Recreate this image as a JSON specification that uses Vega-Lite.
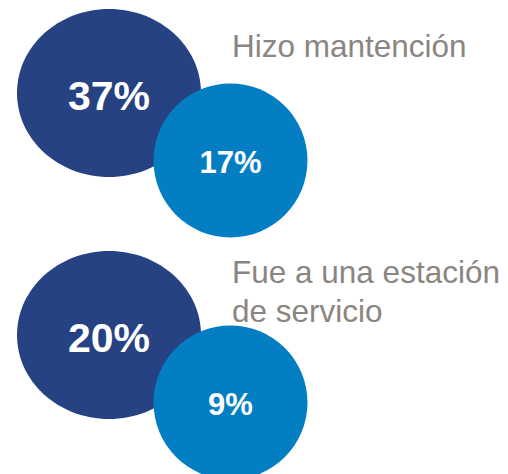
{
  "$schema": "https://vega.github.io/schema/vega-lite/v6.json",
  "width": 508,
  "height": 474,
  "padding": 0,
  "autosize": {"type": "fit", "contains": "padding"},
  "background": "white",
  "config": {"view": {"stroke": null}},
  "data": {
    "values": [
      {"grupo": "Hizo mantención", "tipo": "total", "valor": 0.37},
      {"grupo": "Hizo mantención", "tipo": "sub", "valor": 0.17},
      {"grupo": "Fue a una estación\nde servicio", "tipo": "total", "valor": 0.20},
      {"grupo": "Fue a una estación\nde servicio", "tipo": "sub", "valor": 0.09}
    ]
  },
  "encoding": {
    "x": {"field": "tipo", "type": "nominal", "axis": null,
          "scale": {"type": "point", "domain": ["total", "sub"], "range": [109, 230.5], "padding": 0}},
    "y": {"field": "grupo", "type": "nominal", "axis": null,
          "scale": {"type": "point", "domain": ["Hizo mantención", "Fue a una estación\nde servicio"], "range": [93, 335], "padding": 0}}
  },
  "layer": [
    {
      "mark": {"type": "point", "filled": true, "opacity": 1, "strokeWidth": 0},
      "encoding": {
        "yOffset": {"field": "tipo", "type": "nominal",
                    "scale": {"type": "point", "domain": ["total", "sub"], "range": [0, 67.5], "padding": 0}},
        "shape": {"field": "tipo", "type": "nominal", "legend": null,
                  "scale": {"domain": ["total", "sub"], "range": ["M 1 0 C 1 0.5043 0.5523 0.913 0 0.913 C -0.5523 0.913 -1 0.5043 -1 0 C -1 -0.5043 -0.5523 -0.913 0 -0.913 C 0.5523 -0.913 1 -0.5043 1 0 Z", "circle"]}},
        "size": {"field": "tipo", "type": "ordinal", "legend": null,
                 "scale": {"domain": ["total", "sub"], "range": [33856, 23716]}},
        "color": {"field": "tipo", "type": "nominal", "legend": null,
                  "scale": {"domain": ["total", "sub"], "range": ["#264282", "#037ec2"]}}
      }
    },
    {
      "transform": [{"filter": "datum.tipo === 'total'"}],
      "mark": {"type": "text", "font": "Liberation Sans", "fontWeight": "bold", "fontSize": 41, "color": "white", "align": "center", "baseline": "alphabetic", "dy": 17},
      "encoding": {
        "yOffset": {"field": "tipo", "type": "nominal",
                    "scale": {"type": "point", "domain": ["total", "sub"], "range": [0, 67.5], "padding": 0}},
        "text": {"field": "valor", "type": "quantitative", "format": ".0%"}
      }
    },
    {
      "transform": [{"filter": "datum.tipo === 'sub'"}],
      "mark": {"type": "text", "font": "Liberation Sans", "fontWeight": "bold", "fontSize": 31, "color": "white", "align": "center", "baseline": "alphabetic", "dy": 12.5},
      "encoding": {
        "yOffset": {"field": "tipo", "type": "nominal",
                    "scale": {"type": "point", "domain": ["total", "sub"], "range": [0, 67.5], "padding": 0}},
        "text": {"field": "valor", "type": "quantitative", "format": ".0%"}
      }
    },
    {
      "transform": [{"filter": "datum.tipo === 'sub' && datum.grupo === 'Hizo mantención'"}],
      "mark": {"type": "text", "font": "Liberation Sans", "fontSize": 31.5, "color": "#8b8580", "align": "left", "baseline": "alphabetic", "dx": 1.5, "dy": -36, "lineBreak": "\n", "lineHeight": 39},
      "encoding": {"text": {"field": "grupo", "type": "nominal"}}
    },
    {
      "transform": [{"filter": "datum.tipo === 'sub' && datum.grupo !== 'Hizo mantención'"}],
      "mark": {"type": "text", "font": "Liberation Sans", "fontSize": 31.5, "color": "#8b8580", "align": "left", "baseline": "alphabetic", "dx": 1.5, "dy": -52, "lineBreak": "\n", "lineHeight": 39},
      "encoding": {"text": {"field": "grupo", "type": "nominal"}}
    }
  ]
}
